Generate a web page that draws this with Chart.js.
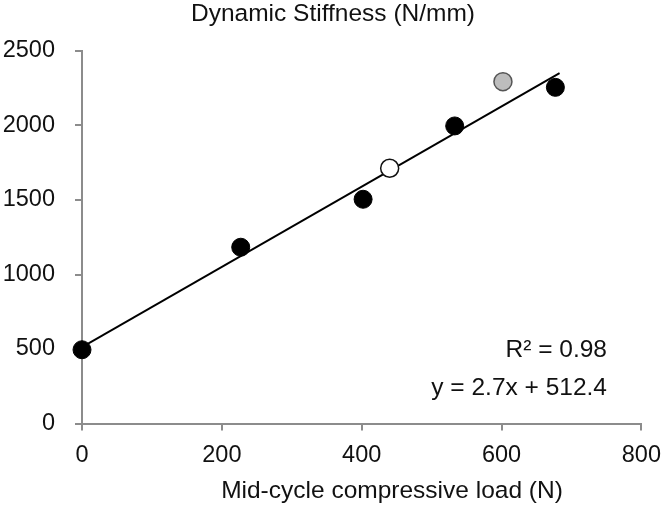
<!DOCTYPE html>
<html>
<head>
<meta charset="utf-8">
<title>Dynamic Stiffness</title>
<script src="https://cdn.jsdelivr.net/npm/chart.js@4.4.1/dist/chart.umd.min.js"></script>
<style>
    html, body { margin: 0; padding: 0; background: #ffffff; }
    #wrap { width: 672px; height: 508px; }
</style>
</head>
<body>
<div id="wrap"><canvas id="stiffnessChart" width="672" height="508"></canvas></div>
<script>
// Mid-cycle load (N) vs dynamic stiffness (N/mm)
const blackLoad = [0, 227, 402, 533, 677];
const blackStiffness = [495, 1183, 1505, 1997, 2256];
const whiteLoad = [440];
const whiteStiffness = [1713];
const greyLoad = [602];
const greyStiffness = [2294];

// Linear trendline, start and end as drawn
const trendLoad = [0, 683];
const trendStiffness = [512, 2352];

const xTicks = [0, 200, 400, 600, 800];
const yTicks = [0, 500, 1000, 1500, 2000, 2500];

const FONT = '"Liberation Sans", Arial, sans-serif';
const AXIS_GREY = '#8c8c8c';
const TEXT_COLOR = '#111111';

function toPoints(xs, ys) {
    return xs.map((x, i) => ({ x: x, y: ys[i] }));
}

/**
 * Chart title, x axis title and the fit stats
 * (placed by hand because Excel doesn't centre them on the plot)
 */
const notesPlugin = {
    id: 'notes',
    afterDraw(chart) {
        const ctx = chart.ctx;
        ctx.save();
        ctx.font = '24.5px ' + FONT;
        ctx.fillStyle = TEXT_COLOR;
        ctx.textBaseline = 'middle';

        ctx.textAlign = 'center';
        ctx.fillText('Dynamic Stiffness (N/mm)', 333, 14);
        ctx.fillText('Mid-cycle compressive load (N)', 392, 491);

        ctx.textAlign = 'right';
        ctx.fillText('R² = 0.98', 607, 350);
        ctx.fillText('y = 2.7x + 512.4', 607, 388);
        ctx.restore();
    }
};

new Chart(document.getElementById('stiffnessChart'), {
    type: 'scatter',
    data: {
        datasets: [
            {
                label: 'Black',
                data: toPoints(blackLoad, blackStiffness),
                backgroundColor: '#000000',
                borderColor: '#000000',
                borderWidth: 1,
                pointRadius: 9,
                clip: false,
                order: 1
            },
            {
                label: 'White',
                data: toPoints(whiteLoad, whiteStiffness),
                backgroundColor: '#ffffff',
                borderColor: '#111111',
                borderWidth: 1.5,
                pointRadius: 9,
                clip: false,
                order: 1
            },
            {
                label: 'Grey',
                data: toPoints(greyLoad, greyStiffness),
                backgroundColor: '#bdbdbd',
                borderColor: '#555555',
                borderWidth: 1.5,
                pointRadius: 9,
                clip: false,
                order: 1
            },
            {
                type: 'line',
                label: 'Trend',
                data: toPoints(trendLoad, trendStiffness),
                borderColor: '#000000',
                borderWidth: 2,
                pointRadius: 0,
                fill: false,
                order: 5
            }
        ]
    },
    options: {
        responsive: false,
        animation: false,
        devicePixelRatio: 1,
        layout: {
            padding: { left: 0, right: 27, top: 51, bottom: 0 }
        },
        plugins: {
            legend: { display: false },
            tooltip: { enabled: false },
            title: { display: false }
        },
        scales: {
            x: {
                type: 'linear',
                min: 0,
                max: 800,
                afterBuildTicks: scale => { scale.ticks = xTicks.map(v => ({ value: v })); },
                afterFit: scale => { scale.height = 84.5; },
                ticks: {
                    color: TEXT_COLOR,
                    font: { family: FONT, size: 23.5 },
                    padding: 11,
                    maxRotation: 0,
                    callback: value => String(value)
                },
                grid: {
                    drawOnChartArea: false,
                    drawTicks: true,
                    tickLength: 7,
                    color: AXIS_GREY,
                    lineWidth: 2
                },
                border: { color: AXIS_GREY, width: 2 }
            },
            y: {
                type: 'linear',
                min: 0,
                max: 2500,
                afterBuildTicks: scale => { scale.ticks = yTicks.map(v => ({ value: v })); },
                afterFit: scale => { scale.width = 82; },
                ticks: {
                    color: TEXT_COLOR,
                    font: { family: FONT, size: 23.5 },
                    padding: 20,
                    callback: value => String(value)
                },
                grid: {
                    drawOnChartArea: false,
                    drawTicks: true,
                    tickLength: 7,
                    color: AXIS_GREY,
                    lineWidth: 2
                },
                border: { color: AXIS_GREY, width: 2 }
            }
        }
    },
    plugins: [notesPlugin]
});
</script>
</body>
</html>
